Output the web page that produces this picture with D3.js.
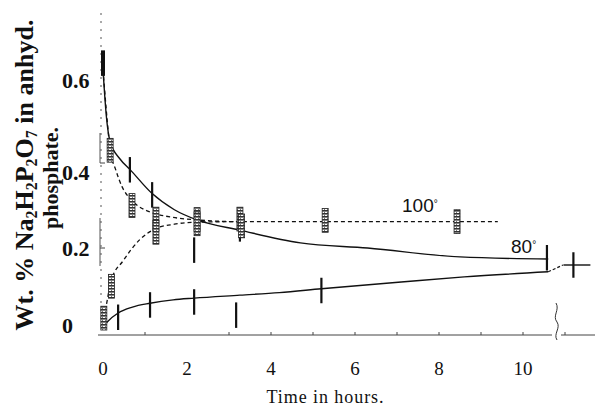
<!DOCTYPE html>
<html><head><meta charset="utf-8">
<script src="https://cdn.jsdelivr.net/npm/d3@7"></script>
<style>
html,body{margin:0;padding:0;background:#fff;}
svg{display:block;}
</style></head>
<body>
<svg id="c" width="595" height="409"></svg>
<script>
// ---------- data ----------
// 80° curves (solid)
const high80T = [0, 0.08, 0.17, 0.4, 0.64, 1.17, 1.7, 2.24, 3.26, 4.7, 6.3, 8.5, 10.6];
const high80V = [0.62, 0.51, 0.45, 0.41, 0.385, 0.328, 0.29, 0.266, 0.242, 0.212, 0.2, 0.179, 0.174];
const low80T  = [0, 0.1, 0.36, 0.7, 1.12, 1.67, 2.17, 3.26, 4.2, 5.2, 7.1, 8.6, 10.6];
const low80V  = [0.014, 0.026, 0.047, 0.061, 0.07, 0.078, 0.082, 0.089, 0.095, 0.104, 0.12, 0.132, 0.144];
// 80° error-bar points
const bar80T = [0, 0.64, 1.17, 10.57, 0.36, 1.12, 2.17, 5.2, 2.17, 3.17, 3.26];
const bar80V = [0.635, 0.384, 0.325, 0.177, 0.037, 0.066, 0.073, 0.1, 0.195, 0.042, 0.245];
// 100° curves (dashed)
const down100T = [0, 0.1, 0.17, 0.3, 0.45, 0.65, 0.85, 1.17, 1.67, 2.24, 3.26, 5.3, 8.4, 9.4];
const down100V = [0.62, 0.5, 0.43, 0.385, 0.345, 0.315, 0.298, 0.283, 0.272, 0.266, 0.262, 0.262, 0.262, 0.262];
const up100T = [0, 0.07, 0.2, 0.48, 0.88, 1.24, 1.7, 2.24, 3.26];
const up100V = [0.02, 0.06, 0.125, 0.17, 0.22, 0.245, 0.256, 0.261, 0.262];
// 100° hatched points
const hatchT = [0.17, 0.69, 1.26, 1.26, 2.24, 2.24, 3.26, 3.3, 5.29, 8.43, 0.02, 0.2];
const hatchV = [0.43, 0.30, 0.268, 0.237, 0.267, 0.257, 0.268, 0.252, 0.265, 0.262, 0.035, 0.11];
// long-time (after axis break) 80° point
const finalT = [11.2];
const finalV = [0.16];

const xTicks = [0, 2, 4, 6, 8, 10];
const xMinor = [1, 3, 4, 5, 6, 7, 8, 9, 10, 11];
const yTicks = [0, 0.2, 0.4, 0.6];
const yTickLabels = ["0", "0.2", "0.4", "0.6"];
const xTickLabels = ["0", "2", "4", "6", "8", "10"];

// ---------- scales ----------
const x = d3.scaleLinear().domain([0, 10]).range([103, 523]);
const y = d3.scaleLinear().domain([0, 0.6]).range([333, 78]);

const svg = d3.select("#c");
const ink = "#111";

// hatch pattern
const defs = svg.append("defs");
const pat = defs.append("pattern").attr("id", "hatch").attr("patternUnits", "userSpaceOnUse")
  .attr("width", 3).attr("height", 3);
pat.append("rect").attr("width", 3).attr("height", 3).attr("fill", "#fff");
pat.append("rect").attr("width", 3).attr("height", 1.6).attr("fill", "#333");
pat.append("rect").attr("x", 0).attr("y", 1.6).attr("width", 1).attr("height", 1.4).attr("fill", "#777");

// ---------- axes ----------
// y axis (dashed, with a few solid stretches)
svg.append("line").attr("x1", x(0) - 2).attr("x2", x(0) - 2).attr("y1", 13).attr("y2", y(0))
  .attr("stroke", "#555").attr("stroke-width", 1).attr("stroke-dasharray", "2,6");
svg.selectAll(".ys").data([0.4, 0.2]).enter().append("line")
  .attr("x1", x(0) - 3).attr("x2", x(0) - 3).attr("y1", d => y(d) - 30).attr("y2", d => y(d) + (d === 0.2 ? 18 : 0))
  .attr("stroke", "#555").attr("stroke-width", 1);
svg.selectAll(".ytk").data(yTicks.filter(d => d > 0 && d < 0.6)).enter().append("line")
  .attr("x1", x(0) - 3).attr("x2", x(0) + 2).attr("y1", d => y(d)).attr("y2", d => y(d))
  .attr("stroke", "#444").attr("stroke-width", 1);
const yLabelShift = [0, 8, 17, 10];
svg.selectAll(".ytl").data(yTicks).enter().append("text")
  .attr("x", 62).attr("y", (d, i) => y(d) + yLabelShift[i])
  .attr("font-family", "Liberation Serif, serif").attr("font-weight", "bold").attr("font-size", 22)
  .attr("fill", ink).text((d, i) => yTickLabels[i]);

// x axis
const axY = 335;
svg.append("line").attr("x1", 98).attr("x2", 552).attr("y1", axY).attr("y2", axY)
  .attr("stroke", "#444").attr("stroke-width", 1);
svg.append("line").attr("x1", 561).attr("x2", 595).attr("y1", axY).attr("y2", axY)
  .attr("stroke", "#444").attr("stroke-width", 1);
svg.selectAll(".xtk").data(xMinor).enter().append("line")
  .attr("x1", d => x(d)).attr("x2", d => x(d)).attr("y1", axY).attr("y2", axY - 3)
  .attr("stroke", "#444").attr("stroke-width", 1);
// break squiggle
svg.append("path")
  .attr("d", "M556,303 C560,310 552,316 557,322 C561,328 553,334 557,340")
  .attr("fill", "none").attr("stroke", "#333").attr("stroke-width", 1);
svg.selectAll(".xtl").data(xTicks).enter().append("text")
  .attr("x", d => x(d)).attr("y", 375).attr("text-anchor", "middle")
  .attr("font-family", "Liberation Serif, serif").attr("font-size", 19)
  .attr("fill", ink).text((d, i) => xTickLabels[i]);
svg.append("text").attr("x", 325).attr("y", 403).attr("text-anchor", "middle")
  .attr("font-family", "Liberation Serif, serif").attr("font-size", 18)
  .attr("textLength", 117).attr("lengthAdjust", "spacing")
  .attr("fill", ink).text("Time in hours.");

// y label
const yl = svg.append("text").attr("transform", "translate(33,175) rotate(-90)")
  .attr("text-anchor", "middle").attr("font-family", "Liberation Serif, serif")
  .attr("font-weight", "bold").attr("font-size", 26).attr("fill", ink);
yl.append("tspan").text("Wt. % Na");
yl.append("tspan").attr("baseline-shift", "-25%").attr("font-size", 16).text("2");
yl.append("tspan").text("H");
yl.append("tspan").attr("baseline-shift", "-25%").attr("font-size", 16).text("2");
yl.append("tspan").text("P");
yl.append("tspan").attr("baseline-shift", "-25%").attr("font-size", 16).text("2");
yl.append("tspan").text("O");
yl.append("tspan").attr("baseline-shift", "-25%").attr("font-size", 16).text("7");
yl.append("tspan").text(" in anhyd.");
svg.append("text").attr("transform", "translate(58,178) rotate(-90)")
  .attr("text-anchor", "middle").attr("font-family", "Liberation Serif, serif")
  .attr("font-weight", "bold").attr("font-size", 22).attr("fill", ink).text("phosphate.");

// ---------- curves ----------
const line = d3.line().x(d => x(d[0])).y(d => y(d[1])).curve(d3.curveMonotoneX);
const zip = (a, b) => a.map((t, i) => [t, b[i]]);

svg.append("path").attr("d", line(zip(high80T, high80V)))
  .attr("fill", "none").attr("stroke", ink).attr("stroke-width", 1.4);
svg.append("path").attr("d", line(zip(low80T, low80V)))
  .attr("fill", "none").attr("stroke", ink).attr("stroke-width", 1.4);
svg.append("path").attr("d", line(zip(down100T, down100V)))
  .attr("fill", "none").attr("stroke", ink).attr("stroke-width", 1.3).attr("stroke-dasharray", "4,3");
svg.append("path").attr("d", line(zip(up100T, up100V)))
  .attr("fill", "none").attr("stroke", ink).attr("stroke-width", 1.3).attr("stroke-dasharray", "4,3");

// dashed link across the axis break to the final point
svg.append("path")
  .attr("d", d3.line().x(d => x(d[0])).y(d => y(d[1]))([[low80T[low80T.length - 1], low80V[low80V.length - 1]], [finalT[0] - 0.25, finalV[0]]]))
  .attr("fill", "none").attr("stroke", ink).attr("stroke-width", 1.2).attr("stroke-dasharray", "3,2");

// ---------- error bars ----------
const half = 0.03;
svg.selectAll(".eb").data(zip(bar80T, bar80V)).enter().append("line")
  .attr("x1", d => x(d[0])).attr("x2", d => x(d[0]))
  .attr("y1", d => y(d[1] + half)).attr("y2", d => y(d[1] - half))
  .attr("stroke", ink).attr("stroke-width", (d, i) => i === 0 ? 4 : 2.2);

svg.selectAll(".hb").data(zip(hatchT, hatchV)).enter().append("rect")
  .attr("x", d => x(d[0]) - 3).attr("width", 6)
  .attr("y", d => y(d[1] + 0.028)).attr("height", d => y(d[1] - 0.028) - y(d[1] + 0.028))
  .attr("fill", "url(#hatch)").attr("stroke", "#222").attr("stroke-width", 0.8);

// final cross
svg.selectAll(".fc").data(zip(finalT, finalV)).enter().append("g").each(function(d) {
  const g = d3.select(this);
  g.append("line").attr("x1", x(d[0])).attr("x2", x(d[0])).attr("y1", y(d[1] + 0.03)).attr("y2", y(d[1] - 0.03))
    .attr("stroke", ink).attr("stroke-width", 2.2);
  g.append("line").attr("x1", x(d[0]) - 10).attr("x2", x(d[0]) + 17).attr("y1", y(d[1])).attr("y2", y(d[1]))
    .attr("stroke", ink).attr("stroke-width", 1.4);
});

// ---------- curve labels ----------
const lab = (tx, ty, s) => {
  const t = svg.append("text").attr("x", tx).attr("y", ty)
    .attr("font-family", "Liberation Sans, sans-serif").attr("font-size", 19).attr("fill", ink);
  t.append("tspan").text(s);
  t.append("tspan").attr("baseline-shift", "55%").attr("font-size", 10).text("°");
};
lab(402, 212, "100");
lab(511, 253, "80");
</script>
</body></html>
